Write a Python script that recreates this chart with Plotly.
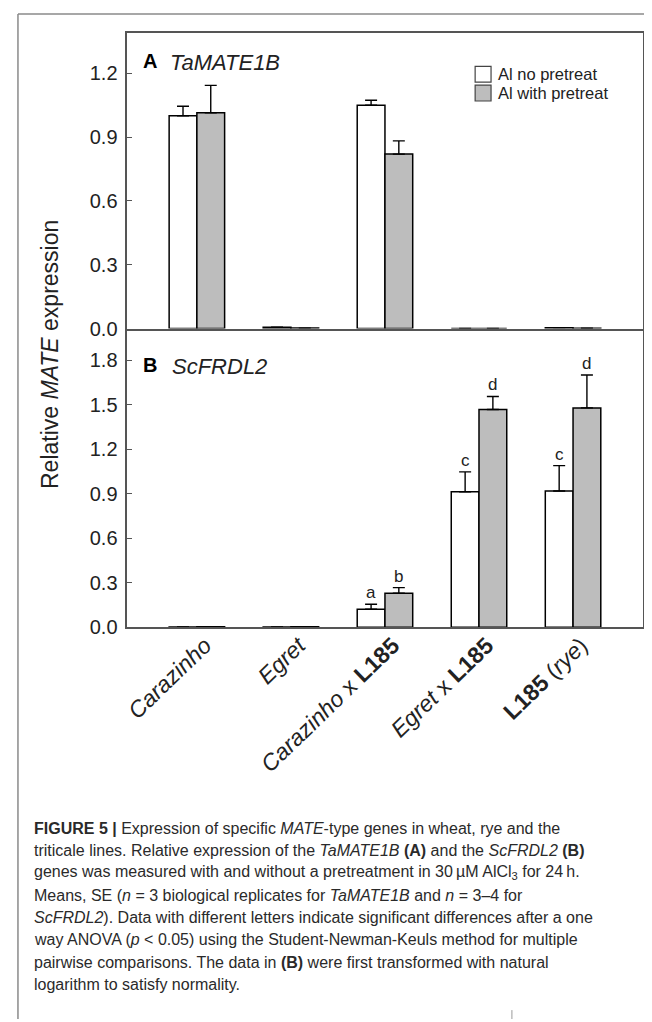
import plotly.graph_objects as go

# ---------------- data ----------------
categories = ["Carazinho", "Egret", "Carazinho x L185", "Egret x L185", "L185 (rye)"]
tick_labels = ["<i>Carazinho</i>", "<i>Egret</i>", "<i>Carazinho</i> x <b>L185</b>",
               "<i>Egret</i> x <b>L185</b>", "<b>L185</b> (<i>rye</i>)"]
series_names = ["Al no pretreat", "Al with pretreat"]

# Panel A: TaMATE1B
ta_no = [1.00, 0.006, 1.05, 0.0, 0.004]
ta_no_err = [0.045, 0.0, 0.023, 0.0, 0.0]
ta_pre = [1.014, 0.002, 0.82, 0.0, 0.001]
ta_pre_err = [0.129, 0.0, 0.062, 0.0, 0.0]

# Panel B: ScFRDL2
sc_no = [0.002, 0.002, 0.122, 0.913, 0.918]
sc_no_err = [0.0, 0.0, 0.033, 0.134, 0.171]
sc_pre = [0.004, 0.004, 0.229, 1.467, 1.478]
sc_pre_err = [0.0, 0.0, 0.038, 0.088, 0.222]
sc_no_letters = ["", "", "a", "c", "c"]
sc_pre_letters = ["", "", "b", "d", "d"]

ticks_a = [0.0, 0.3, 0.6, 0.9, 1.2]
ticks_b = [0.0, 0.3, 0.6, 0.9, 1.2, 1.5, 1.8]

caption_lines = [
    "<b>FIGURE 5 |</b> Expression of specific <i>MATE</i>-type genes in wheat, rye and the",
    "triticale lines. Relative expression of the <i>TaMATE1B</i> <b>(A)</b> and the <i>ScFRDL2</i> <b>(B)</b>",
    "genes was measured with and without a pretreatment in 30\u2009\u00b5M AlCl<sub>3</sub> for 24\u2009h.",
    "Means, SE (<i>n</i> = 3 biological replicates for <i>TaMATE1B</i> and <i>n</i> = 3\u20134 for",
    "<i>ScFRDL2</i>). Data with different letters indicate significant differences after a one",
    "way ANOVA (<i>p</i> &lt; 0.05) using the Student-Newman-Keuls method for multiple",
    "pairwise comparisons. The data in <b>(B)</b> were first transformed with natural",
    "logarithm to satisfy normality.",
]

# ---------------- figure ----------------
W, H = 652, 1022
FONT = "Liberation Sans, Arial, sans-serif"
TXT = "#222222"
GRAY = "#bdbdbd"
idx = list(range(len(categories)))


def px_x(p):
    return p / W


def px_y(p):
    return 1 - p / H


fig = go.Figure()

fills = ["white", GRAY]
for name, vals, errs, fill in [(series_names[0], ta_no, ta_no_err, fills[0]),
                               (series_names[1], ta_pre, ta_pre_err, fills[1])]:
    fig.add_trace(go.Bar(
        x=idx, y=vals, name=name, xaxis="x", yaxis="y",
        marker=dict(color=fill, line=dict(color="black", width=1.5)),
        error_y=dict(type="data", symmetric=False, array=errs,
                     arrayminus=[0] * len(errs), color="black", thickness=1.4, width=6),
        showlegend=False,
    ))

for name, vals, errs, fill in [(series_names[0], sc_no, sc_no_err, fills[0]),
                               (series_names[1], sc_pre, sc_pre_err, fills[1])]:
    fig.add_trace(go.Bar(
        x=idx, y=vals, name=name, xaxis="x2", yaxis="y2",
        marker=dict(color=fill, line=dict(color="black", width=1.5)),
        error_y=dict(type="data", symmetric=False, array=errs,
                     arrayminus=[0] * len(errs), color="black", thickness=1.4, width=6),
        showlegend=False,
    ))

x_dom = [px_x(116), px_x(635)]
x_rng = [-0.74, 4.745]
axis_line = dict(showline=True, linecolor="#555555", linewidth=1.5,
                 showgrid=False, zeroline=False)

fig.update_layout(
    width=W, height=H,
    margin=dict(l=0, r=0, t=0, b=0),
    paper_bgcolor="white", plot_bgcolor="white",
    font=dict(family=FONT, color=TXT),
    barmode="group", bargap=0.41, bargroupgap=0,
    showlegend=False,
    xaxis=dict(domain=x_dom, range=x_rng, anchor="y", mirror=True,
               showticklabels=False, ticks="", **axis_line),
    yaxis=dict(domain=[px_y(324), px_y(25)], range=[0, 1.3907], anchor="x",
               mirror=True, tickvals=ticks_a, ticktext=[f"{v:.1f}" for v in ticks_a],
               ticks="inside", ticklen=5, tickcolor="#555555",
               ticklabelstandoff=4,
               tickfont=dict(size=20, color=TXT), **axis_line),
    xaxis2=dict(domain=x_dom, range=x_rng, anchor="y2",
                tickvals=idx, ticktext=tick_labels, tickangle=-44, ticks="",
                ticklabelstandoff=-6, ticklabelshift=8,
                tickfont=dict(size=23, color=TXT), **axis_line),
    yaxis2=dict(domain=[px_y(626), px_y(324)], range=[0, 2.013], anchor="x2",
                mirror=True, tickvals=ticks_b, ticktext=[f"{v:.1f}" for v in ticks_b],
                ticks="inside", ticklen=5, tickcolor="#555555",
                ticklabelstandoff=4,
                tickfont=dict(size=20, color=TXT), **axis_line),
)

annotations = []
# significance letters
off = (1 - 0.41) / 4
for i in idx:
    if sc_no_letters[i]:
        annotations.append(dict(x=i - off, y=sc_no[i] + sc_no_err[i], xref="x2", yref="y2",
                                text=sc_no_letters[i], showarrow=False, yanchor="bottom",
                                yshift=0, font=dict(size=17, color=TXT)))
    if sc_pre_letters[i]:
        annotations.append(dict(x=i + off, y=sc_pre[i] + sc_pre_err[i], xref="x2", yref="y2",
                                text=sc_pre_letters[i], showarrow=False, yanchor="bottom",
                                yshift=0, font=dict(size=17, color=TXT)))

# panel labels
annotations += [
    dict(x=px_x(130), y=px_y(54), xref="paper", yref="paper", text="<b>A</b>",
         showarrow=False, xanchor="left", yanchor="middle", font=dict(size=20, color="black")),
    dict(x=px_x(157), y=px_y(55), xref="paper", yref="paper", text="<i>TaMATE1B</i>",
         showarrow=False, xanchor="left", yanchor="middle", font=dict(size=22, color=TXT)),
    dict(x=px_x(130), y=px_y(361), xref="paper", yref="paper", text="<b>B</b>",
         showarrow=False, xanchor="left", yanchor="middle", font=dict(size=20, color="black")),
    dict(x=px_x(159), y=px_y(362), xref="paper", yref="paper", text="<i>ScFRDL2</i>",
         showarrow=False, xanchor="left", yanchor="middle", font=dict(size=22, color=TXT)),
    dict(x=px_x(38), y=px_y(350), xref="paper", yref="paper",
         text="Relative <i>MATE</i> expression", textangle=-90,
         showarrow=False, xanchor="center", yanchor="middle", font=dict(size=23, color=TXT)),
]

# manual legend (symbols + labels)
legend_rows = [(59, 75), (78, 94)]
shapes = []
for (y0, y1), name, fill in zip(legend_rows, series_names, fills):
    shapes.append(dict(type="rect", xref="paper", yref="paper",
                       x0=px_x(466), x1=px_x(482), y0=px_y(y1), y1=px_y(y0),
                       fillcolor=fill, line=dict(color="#444444", width=1.2)))
    annotations.append(dict(x=px_x(488), y=px_y((y0 + y1) / 2), xref="paper", yref="paper",
                            text=name, showarrow=False, xanchor="left", yanchor="middle",
                            borderpad=0, font=dict(size=16.5, color=TXT)))

# caption
for k, line in enumerate(caption_lines):
    annotations.append(dict(x=px_x(20), y=px_y(829 + 22.6 * k), xref="paper", yref="paper",
                            text=line, showarrow=False, xanchor="left", yanchor="middle",
                            font=dict(size=16, color="#2a2a2a")))

# outer frame lines
shapes += [
    dict(type="line", xref="paper", yref="paper", x0=px_x(6), x1=1, y0=px_y(6), y1=px_y(6),
         line=dict(color="#8a8a8a", width=1.5)),
    dict(type="line", xref="paper", yref="paper", x0=px_x(6), x1=px_x(6), y0=px_y(6), y1=0,
         line=dict(color="#8a8a8a", width=1.5)),
    dict(type="line", xref="paper", yref="paper", x0=px_x(503), x1=px_x(503),
         y0=0, y1=px_y(1013), line=dict(color="#9a9a9a", width=1)),
]

fig.update_layout(annotations=annotations, shapes=shapes)

fig.write_html("out.html")
